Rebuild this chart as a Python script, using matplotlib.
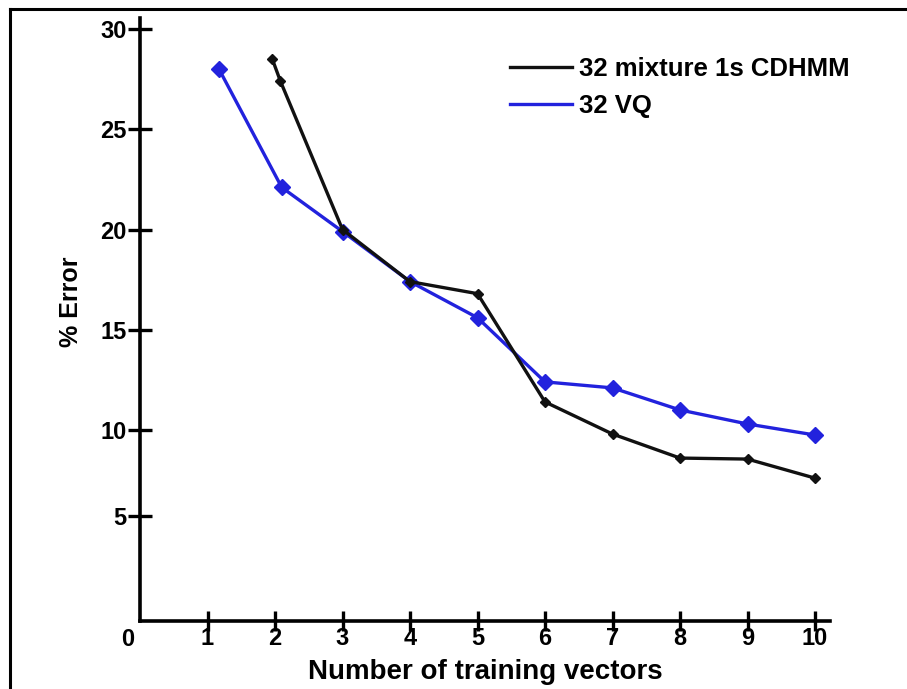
import matplotlib
matplotlib.use("Agg")
import matplotlib.pyplot as plt
from matplotlib.lines import Line2D

plt.rcParams['font.family'] = ['Liberation Sans', 'DejaVu Sans']
plt.rcParams['font.weight'] = 'bold'

# Data
cdhmm_x = [1.96, 2.08, 3.0, 4.0, 5.0, 6.0, 7.0, 8.0, 9.0, 10.0]
cdhmm_y = [28.5, 27.4, 20.0, 17.4, 16.8, 11.4, 9.8, 8.6, 8.55, 7.6]
vq_x = [1.17, 2.1, 3.0, 4.0, 5.0, 6.0, 7.0, 8.0, 9.0, 10.0]
vq_y = [28.0, 22.1, 19.9, 17.4, 15.6, 12.4, 12.1, 11.0, 10.3, 9.75]

x_ticks = [1, 2, 3, 4, 5, 6, 7, 8, 9, 10]
# the reference draws its "5" tick a little above the true 5 position
y_ticks = [5.7, 10, 15, 20, 25, 30]
y_tick_labels = ['5', '10', '15', '20', '25', '30']

series_names = ['32 mixture 1s CDHMM', '32 VQ']
colors = ['#111111', '#2222dd']

W, H = 907, 689
fig = plt.figure(figsize=(W / 100, H / 100), dpi=100)
fig.patch.set_facecolor('white')

# image border (left and top)
fig.add_artist(Line2D([10 / W, 10 / W], [0, 1 - 9 / H], color='black', lw=2.2,
                      transform=fig.transFigure))
fig.add_artist(Line2D([10 / W, 1], [1 - 9 / H, 1 - 9 / H], color='black', lw=2.2,
                      transform=fig.transFigure))

x0, x1 = 140, 830
y0, y1 = 18, 621
ax = fig.add_axes([x0 / W, 1 - y1 / H, (x1 - x0) / W, (y1 - y0) / H])
ax.set_xlim(0, (x1 - x0) / 67.5)
ax.set_ylim(30 - (y1 - 29) / 20.05, 30 + (29 - y0) / 20.05)

for s in ['top', 'right']:
    ax.spines[s].set_visible(False)
for s in ['left', 'bottom']:
    ax.spines[s].set_linewidth(2.6)

ax.plot(cdhmm_x, cdhmm_y, color=colors[0], lw=2.4, marker='D', ms=5,
        label=series_names[0], zorder=3)
ax.plot(vq_x, vq_y, color=colors[1], lw=2.4, marker='D', ms=8,
        label=series_names[1], zorder=2)

ax.set_xticks(x_ticks)
ax.set_xticklabels([str(v) for v in x_ticks])
ax.set_yticks(y_ticks)
ax.set_yticklabels(y_tick_labels)
ax.tick_params(axis='both', direction='inout', length=17, width=2.4,
               labelsize=17, pad=1)
ax.tick_params(axis='x', length=15, pad=-3)
ax.text(-0.18, -0.012, '0', transform=ax.get_xaxis_transform(), fontsize=17,
        fontweight='bold', ha='center', va='top')

ax.set_xlabel('Number of training vectors', fontsize=20, fontweight='bold', labelpad=6)
ax.set_ylabel('% Error', fontsize=18, fontweight='bold')
ax.yaxis.set_label_coords(-0.083, 0.529)

leg = ax.legend(handles=[Line2D([], [], color=colors[0], lw=2.4),
                         Line2D([], [], color=colors[1], lw=2.4)],
                labels=series_names, loc='upper left',
                bbox_to_anchor=(510 / W, 1 - 57 / H), bbox_transform=fig.transFigure,
                frameon=False, fontsize=18.5, handlelength=2.4, handletextpad=0.3,
                labelspacing=0.5, borderpad=0, borderaxespad=0)

fig.savefig('out.png', dpi=100)
